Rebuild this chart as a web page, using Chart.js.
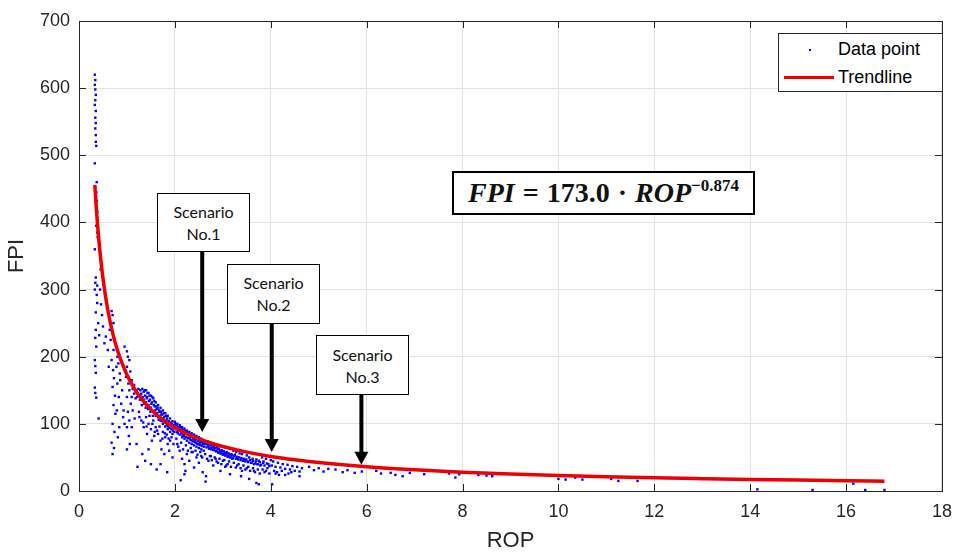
<!DOCTYPE html>
<html>
<head>
<meta charset="utf-8">
<script src="https://cdn.jsdelivr.net/npm/chart.js@4.4.1/dist/chart.umd.min.js"></script>
<style>
  html, body { margin: 0; padding: 0; background: #fff; }
  #wrap { position: relative; width: 962px; height: 552px; }
  #chart { position: absolute; left: 0; top: 0; }
  .note {
    position: absolute; background: #fff; border: 1.5px solid #000; box-sizing: border-box;
    font-family: Lato, "Open Sans", sans-serif; font-size: 16px; line-height: 22px;
    text-align: center; color: #111;
  }
  #eq {
    position: absolute; left: 452px; top: 171px; width: 303px; height: 44px;
    border: 2px solid #000; box-sizing: border-box; background: #fff;
    font-family: "Liberation Serif", serif; font-weight: bold; font-size: 28px;
    line-height: 40px; text-align: center; color: #111; white-space: nowrap; word-spacing: 1px;
  }
  #eq i { font-style: italic; }
  #eq sup { font-size: 17px; vertical-align: 11px; line-height: 0; }
  #legend {
    position: absolute; left: 778px; top: 33px; width: 165px; height: 59px;
    border: 1px solid #262626; box-sizing: border-box; background: #fff;
    font-family: "Liberation Sans", Arial, sans-serif; font-size: 18px; color: #000;
  }
  .lg-item { position: absolute; left: 59px; line-height: 20px; }
  .lg-dot { position: absolute; left: 30px; top: 15px; width: 2px; height: 2px; background: #0000ff; }
  .lg-line { position: absolute; left: 5px; top: 42px; width: 50px; height: 3px; background: #ee0000; }
</style>
</head>
<body>
<div id="wrap">
  <canvas id="chart" width="962" height="552"></canvas>
  <div class="note" style="left:157px; top:193px; width:93px; height:59px; padding-top:7px;">Scenario<br>No.1</div>
  <div class="note" style="left:227px; top:264px; width:93px; height:60px; padding-top:7px;">Scenario<br>No.2</div>
  <div class="note" style="left:316px; top:335px; width:93px; height:60px; padding-top:8px;">Scenario<br>No.3</div>
  <div id="eq"><i>FPI</i> = 173.0 · <i>ROP</i><sup>−0.874</sup></div>
  <div id="legend">
    <span class="lg-dot"></span><span class="lg-item" style="top:5px;">Data point</span>
    <span class="lg-line"></span><span class="lg-item" style="top:33px;">Trendline</span>
  </div>
</div>
<script>
  // --- Data ---
  const scatterRop = [
    0.33, 0.34, 0.33, 0.34, 0.35, 0.34, 0.33, 0.35, 0.34, 0.35,
    0.34, 0.35, 0.35, 0.36, 0.33, 0.37, 0.36, 0.37, 0.38, 0.36,
    0.38, 0.39, 0.33, 0.35, 0.34, 0.38, 0.33, 0.35, 0.35, 0.34,
    0.36, 0.33, 0.34, 0.35, 0.33, 0.34, 0.36, 0.41, 0.45, 0.48,
    0.68, 0.7, 0.72, 0.7, 0.74, 0.72, 0.68, 0.71, 0.73, 0.7,
    0.75, 0.72, 0.76, 0.7, 0.74, 0.68, 0.73, 0.7, 0.8, 0.82,
    0.85, 0.8, 0.83, 0.79, 0.84, 0.81, 0.95, 1.0, 1.02, 1.05,
    1.0, 1.07, 0.98, 1.03, 1.05, 1.0, 1.08, 1.02, 1.05, 1.0,
    1.04, 1.06, 1.0, 0.93, 0.95, 0.9, 1.1, 1.12, 1.1, 1.15,
    1.15, 1.18, 1.1, 1.2, 1.22, 1.25, 1.28, 1.3, 1.3, 1.32,
    1.35, 1.35, 1.38, 1.4, 1.4, 1.42, 1.45, 1.45, 1.48, 1.5,
    1.5, 1.52, 1.55, 1.55, 1.58, 1.6, 1.6, 1.25, 1.3, 1.35,
    1.4, 1.42, 1.45, 1.5, 1.52, 1.55, 1.58, 1.2, 1.22, 1.32,
    1.38, 1.45, 1.5, 1.6, 1.62, 1.65, 1.65, 1.68, 1.7, 1.7,
    1.72, 1.75, 1.75, 1.78, 1.8, 1.8, 1.82, 1.85, 1.85, 1.88,
    1.9, 1.9, 1.92, 1.95, 1.95, 1.98, 1.65, 1.7, 1.72, 1.75,
    1.78, 1.8, 1.85, 1.84, 1.88, 1.9, 1.95, 1.62, 1.7, 2.0,
    2.02, 2.05, 2.05, 2.08, 2.1, 2.1, 2.12, 2.15, 2.15, 2.18,
    2.2, 2.2, 2.22, 2.25, 2.25, 2.28, 2.3, 2.3, 2.32, 2.35,
    2.35, 2.38, 2.4, 2.4, 2.42, 2.45, 2.45, 2.48, 2.5, 2.5,
    2.52, 2.55, 2.55, 2.58, 2.6, 2.6, 2.05, 2.1, 2.12, 2.15,
    2.2, 2.22, 2.25, 2.3, 2.35, 2.4, 2.45, 2.5, 2.55, 2.58,
    2.2, 2.62, 2.65, 2.68, 2.7, 2.72, 2.75, 2.78, 2.8, 2.82,
    2.85, 2.88, 2.9, 2.92, 2.95, 2.98, 3.0, 3.02, 3.05, 3.08,
    3.1, 3.12, 3.15, 3.18, 3.2, 2.64, 2.65, 2.7, 2.75, 2.8,
    2.85, 2.9, 2.95, 3.0, 3.05, 3.1, 3.15, 3.22, 3.25, 3.28,
    3.3, 3.35, 3.38, 3.4, 3.45, 3.5, 3.52, 3.55, 3.6, 3.62,
    3.65, 3.7, 3.72, 3.75, 3.78, 3.3, 3.38, 3.4, 3.5, 3.55,
    3.65, 3.7, 3.75, 3.82, 3.85, 3.9, 3.95, 4.0, 4.02, 4.05,
    4.1, 4.15, 4.2, 4.25, 4.3, 4.35, 4.4, 4.45, 4.5, 4.55,
    4.6, 4.65, 4.03, 4.1, 4.3, 4.6, 3.9, 4.8, 4.9, 5.0,
    5.1, 5.2, 5.35, 5.5, 5.6, 5.75, 5.9, 6.2, 6.3, 6.5,
    6.6, 6.75, 6.9, 7.2, 7.72, 7.85, 7.93, 8.33, 8.5, 8.62,
    10.0, 10.15, 10.35, 10.5, 11.1, 11.25, 11.65, 14.15, 15.3, 16.15,
    16.4, 16.8,
    1.21, 1.24, 1.27, 1.29, 1.31, 1.33, 1.36, 1.37, 1.39, 1.41,
    1.43, 1.44, 1.46, 1.47, 1.49, 1.51, 1.53, 1.54, 1.56, 1.57,
    1.59, 1.61, 1.63, 1.64, 1.66, 1.67, 1.69, 1.71, 1.73, 1.74,
    1.76, 1.77, 1.79, 1.81, 1.83, 1.84, 1.86, 1.87, 1.89, 1.91,
    1.93, 1.94, 1.96, 1.97, 1.99, 2.01, 2.03, 2.04, 2.06, 2.07,
    2.09, 2.11, 2.13, 2.14, 2.16, 2.17, 2.19, 2.21, 2.23, 2.24,
    2.26, 2.27, 2.29, 2.31, 2.33, 2.34, 2.36, 2.37, 2.39, 2.41,
    2.43, 2.44, 2.46, 2.47, 2.49, 2.51, 2.53, 2.54, 2.56, 2.57,
    2.59, 2.61, 2.63, 2.66, 2.69, 2.71, 2.74, 2.76, 2.79, 2.81,
    2.84, 2.86, 2.89, 2.91, 2.94, 2.96, 2.99, 3.01, 3.04, 3.06,
    3.09, 3.11, 3.14, 3.16, 3.19, 3.21, 3.24, 3.27, 3.29, 3.32,
    3.34, 3.37, 3.39, 3.42, 3.44, 3.47, 3.49, 3.53, 3.57, 3.59,
    3.63, 3.67, 3.69, 3.73, 3.77, 3.8, 3.84, 3.87, 3.92, 3.97,
    1.26, 1.34, 1.41, 1.47, 1.53, 1.57, 1.63, 1.68, 1.74, 1.79,
    1.83, 1.87, 1.93, 1.97, 2.03, 2.07, 2.13, 2.17, 2.23, 2.27,
    2.33, 2.37, 2.43, 2.47, 2.53, 2.57, 2.63, 2.67, 2.73, 2.77,
    2.83, 2.87, 2.93, 2.97, 3.03, 3.07, 3.13, 3.17, 3.23, 3.27,
    3.33, 3.37, 3.43, 3.47, 3.53, 3.57, 3.63, 3.67, 3.73, 3.77,
    3.83, 3.87, 3.93, 3.97, 4.07, 4.13, 4.17, 4.23, 4.37, 4.43,
    0.37, 0.38, 0.4, 0.42, 0.44, 0.46, 0.5, 0.53, 0.56, 0.6,
    0.62, 0.64, 0.66, 0.78, 0.86, 0.88, 0.92, 0.96, 1.12, 1.16
  ];
  const scatterFpi = [
    620, 612, 605, 598, 590, 582, 575, 566, 556, 548,
    540, 530, 520, 514, 488, 460, 445, 432, 416, 395,
    385, 378, 360, 318, 310, 306, 300, 266, 240, 228,
    215, 195, 186, 176, 154, 146, 139, 108, 330, 262,
    268, 262, 250, 238, 225, 210, 195, 180, 168, 155,
    142, 128, 115, 100, 88, 72, 64, 55, 200, 190,
    175, 160, 140, 120, 95, 80, 215, 208, 200, 195,
    185, 178, 170, 160, 150, 140, 130, 118, 105, 95,
    82, 70, 62, 120, 100, 150, 165, 152, 140, 158,
    145, 138, 95, 150, 146, 142, 150, 145, 138, 152,
    148, 136, 142, 150, 132, 140, 146, 128, 136, 142,
    124, 132, 138, 118, 126, 132, 112, 118, 105, 95,
    110, 85, 100, 92, 75, 105, 88, 70, 36, 55,
    45, 62, 40, 95, 122, 128, 110, 118, 124, 105,
    114, 120, 100, 110, 116, 96, 105, 112, 92, 100,
    108, 88, 98, 104, 85, 94, 85, 75, 62, 88,
    55, 80, 70, 28, 60, 75, 50, 32, 40, 103,
    96, 100, 88, 94, 98, 84, 90, 95, 80, 88,
    93, 78, 85, 90, 75, 83, 88, 72, 80, 86,
    70, 78, 84, 68, 76, 82, 66, 74, 80, 64,
    72, 78, 62, 70, 76, 60, 70, 60, 16, 48,
    40, 30, 55, 45, 58, 35, 50, 42, 52, 28,
    25, 73, 70, 74, 66, 71, 64, 69, 62, 67,
    60, 65, 58, 63, 56, 61, 54, 59, 53, 58,
    51, 56, 50, 55, 48, 14, 22, 45, 52, 38,
    48, 42, 30, 45, 36, 40, 25, 60, 54, 58,
    50, 56, 48, 55, 46, 53, 44, 50, 42, 48,
    40, 47, 40, 45, 38, 38, 22, 30, 34, 18,
    30, 12, 10, 50, 44, 48, 40, 46, 38, 44,
    36, 42, 35, 40, 33, 39, 32, 37, 30, 36,
    29, 34, 10, 26, 24, 22, 30, 36, 31, 34,
    29, 33, 32, 28, 31, 27, 29, 30, 26, 27,
    24, 22, 27, 25, 26, 20, 25, 24, 23, 22,
    18, 17, 20, 17, 18, 15, 15, 2.5, 1.5, 11,
    1.5, 1.5,
    140, 152, 136, 144, 128, 140, 130, 150, 124, 138,
    146, 122, 134, 142, 118, 130, 140, 112, 128, 134,
    120, 126, 116, 124, 106, 120, 112, 118, 104, 114,
    108, 116, 102, 112, 98, 108, 96, 104, 94, 102,
    92, 100, 90, 98, 88, 100, 92, 97, 86, 95,
    90, 96, 86, 93, 84, 91, 82, 90, 80, 88,
    86, 79, 84, 77, 84, 76, 82, 74, 80, 73,
    79, 72, 77, 70, 76, 69, 75, 68, 73, 67,
    72, 66, 70, 65, 69, 63, 68, 62, 66, 61,
    64, 59, 62, 57, 60, 56, 59, 55, 57, 53,
    56, 52, 54, 50, 53, 49, 52, 48, 51, 47,
    50, 46, 49, 45, 48, 44, 47, 43, 46, 42,
    45, 41, 44, 40, 43, 39, 42, 38, 41, 37,
    110, 102, 96, 112, 100, 82, 90, 96, 78, 86,
    84, 78, 80, 70, 78, 66, 72, 62, 68, 60,
    64, 58, 60, 54, 58, 50, 55, 48, 52, 46,
    50, 44, 48, 40, 46, 38, 44, 36, 42, 35,
    40, 34, 38, 32, 36, 30, 34, 28, 32, 26,
    32, 28, 34, 26, 30, 28, 24, 30, 26, 28,
    292, 280, 250, 232, 300, 278, 245, 220, 230, 210,
    185, 240, 225, 185, 165, 130, 110, 180, 120, 108
  ];

  // trendline FPI = 173.0 * ROP^-0.874
  const trendRop = [0.33, 0.36, 0.4, 0.45, 0.5, 0.55, 0.6, 0.7, 0.8, 0.9, 1.0, 1.1, 1.2, 1.4, 1.6, 1.8, 2.0,
    2.25, 2.5, 2.75, 3.0, 3.5, 4.0, 4.5, 5, 6, 7, 8, 9, 10, 11, 12, 13, 14, 15, 16, 16.8];
  const trendFpi = [456, 422.5, 385, 347.7, 317, 291.7, 270, 236, 210, 190, 173, 159.2, 147.5, 128.9, 114.7, 103.5, 94.4,
    85.2, 77.7, 71.5, 66.2, 57.9, 51.5, 46.5, 42.4, 36.1, 31.6, 28.1, 25.3, 23.1, 21.3, 19.7, 18.4, 17.2, 16.2, 15.3, 14.7];

  // arrow tips of the scenario call-outs (data units) and the bottom of each box (px)
  const scenarioRop = [2.57, 4.02, 5.89];
  const scenarioFpi = [88, 58, 39];
  const scenarioBoxBottom = [252, 324, 395];

  const xTicks = { min: 0, max: 18, step: 2 };
  const yTicks = { min: 0, max: 700, step: 100 };

  const axisFont = { family: "'Liberation Sans', Arial, sans-serif", size: 18 };
  const titleFont = { family: "'Liberation Sans', Arial, sans-serif", size: 22, lineHeight: 1 };

  // box, inward tick marks and call-out arrows (MATLAB look)
  const frameAndArrows = {
    id: "frameAndArrows",
    afterDatasetsDraw(chart) {
      const { ctx, chartArea: a, scales: { x, y } } = chart;
      ctx.save();
      ctx.strokeStyle = "#262626";
      ctx.lineWidth = 1;
      ctx.beginPath();
      x.ticks.forEach((t) => {
        const px = Math.round(x.getPixelForValue(t.value)) + 0.5;
        ctx.moveTo(px, a.bottom); ctx.lineTo(px, a.bottom - 7);
        ctx.moveTo(px, a.top); ctx.lineTo(px, a.top + 7);
      });
      y.ticks.forEach((t) => {
        const py = Math.round(y.getPixelForValue(t.value)) + 0.5;
        ctx.moveTo(a.left, py); ctx.lineTo(a.left + 7, py);
        ctx.moveTo(a.right, py); ctx.lineTo(a.right - 7, py);
      });
      ctx.stroke();
      ctx.strokeRect(Math.round(a.left) + 0.5, Math.round(a.top) + 0.5,
        Math.round(a.right - a.left), Math.round(a.bottom - a.top));

      // arrows
      ctx.fillStyle = "#000";
      ctx.strokeStyle = "#000";
      ctx.lineWidth = 4;
      scenarioRop.forEach((r, i) => {
        const px = x.getPixelForValue(r);
        const tip = y.getPixelForValue(scenarioFpi[i]);
        ctx.beginPath();
        ctx.moveTo(px, scenarioBoxBottom[i]);
        ctx.lineTo(px, tip - 10);
        ctx.stroke();
        ctx.beginPath();
        ctx.moveTo(px - 7, tip - 13);
        ctx.lineTo(px + 7, tip - 13);
        ctx.lineTo(px, tip);
        ctx.closePath();
        ctx.fill();
      });
      ctx.restore();
    },
  };

  new Chart(document.getElementById("chart"), {
    type: "scatter",
    data: {
      datasets: [
        {
          label: "Trendline",
          data: trendRop.map((r, i) => ({ x: r, y: trendFpi[i] })),
          showLine: true,
          borderColor: "#ee0000",
          borderWidth: 3.5,
          pointRadius: 0,
          cubicInterpolationMode: "monotone",
        },
        {
          label: "Data point",
          data: scatterRop.map((r, i) => ({ x: r, y: scatterFpi[i] })),
          backgroundColor: "#0000ff",
          borderWidth: 0,
          pointStyle: "rect",
          pointRadius: 1.7,
        },
      ],
    },
    options: {
      responsive: false,
      animation: false,
      layout: { padding: { top: 21, right: 14, left: 0, bottom: 0 } },
      plugins: { legend: { display: false }, tooltip: { enabled: false } },
      scales: {
        x: {
          type: "linear",
          min: xTicks.min, max: xTicks.max,
          ticks: { stepSize: xTicks.step, color: "#262626", font: axisFont, padding: 10 },
          grid: { color: "#e2e2e2", drawTicks: false },
          border: { display: false },
          title: { display: true, text: "ROP", color: "#262626", font: titleFont, padding: { top: 0, bottom: 0 } },
          afterFit: (s) => { s.height = 61; },
        },
        y: {
          type: "linear",
          min: yTicks.min, max: yTicks.max,
          ticks: { stepSize: yTicks.step, color: "#262626", font: axisFont, padding: 9 },
          grid: { color: "#e2e2e2", drawTicks: false },
          border: { display: false },
          title: { display: true, text: "FPI", color: "#262626", font: titleFont, padding: { top: 6, bottom: 0 } },
          afterFit: (s) => { s.width = 79; },
        },
      },
    },
    plugins: [frameAndArrows],
  });
</script>
</body>
</html>
